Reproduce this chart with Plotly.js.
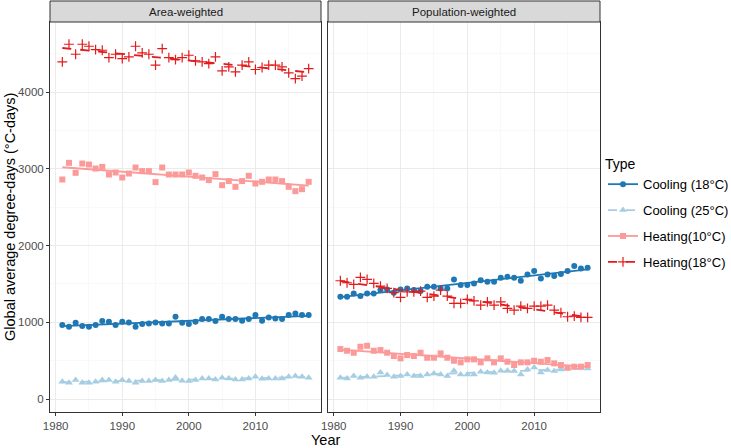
<!DOCTYPE html>
<html>
<head>
<meta charset="utf-8">
<script src="https://cdn.plot.ly/plotly-3.0.1.min.js"></script>
<style>html,body{margin:0;padding:0;background:#fff;}#chart{width:731px;height:448px;}</style>
</head>
<body>
<div id="chart"></div>
<script>
const years = [1981,1982,1983,1984,1985,1986,1987,1988,1989,1990,1991,1992,1993,1994,1995,1996,1997,1998,1999,2000,2001,2002,2003,2004,2005,2006,2007,2008,2009,2010,2011,2012,2013,2014,2015,2016,2017,2018];
const panels = ["Area-weighted", "Population-weighted"];
const types = ["Cooling (18°C)", "Cooling (25°C)", "Heating(10°C)", "Heating(18°C)"];

// Area-weighted
const areaCool18 = [963,942,994,951,942,963,1016,1007,963,1007,998,942,977,985,998,985,985,1072,994,977,1007,1042,1042,1016,1072,1042,1042,1020,1042,1094,1020,1063,1050,1042,1094,1115,1094,1094];
const areaCool25 = [226,213,247,213,213,226,247,247,226,247,234,213,234,234,247,234,247,282,239,234,247,269,269,256,278,269,256,256,269,291,264,269,269,269,291,299,291,278];
const areaHeat10 = [2860,3077,2947,3068,3055,3003,3025,2925,2951,2886,2938,3016,2969,2969,2826,3016,2925,2925,2925,2951,2908,2886,2852,2930,2786,2839,2765,2839,2908,2808,2830,2860,2860,2839,2765,2708,2734,2830];
const areaHeat18 = [4392,4622,4492,4622,4596,4553,4544,4449,4492,4436,4457,4596,4509,4492,4349,4566,4449,4423,4449,4479,4405,4392,4371,4457,4275,4327,4262,4349,4392,4293,4319,4349,4349,4327,4249,4175,4206,4305];

// Population-weighted
const popCool18 = [1332,1332,1376,1341,1376,1376,1419,1428,1385,1428,1441,1419,1406,1463,1463,1441,1441,1558,1484,1484,1506,1549,1528,1528,1580,1593,1580,1541,1623,1667,1571,1623,1602,1628,1667,1732,1701,1710];
const popCool25 = [278,269,299,278,291,291,347,313,291,299,321,299,299,321,334,321,299,369,321,321,321,356,347,343,369,369,365,321,386,412,347,378,365,386,399,412,412,399];
const popHeat10 = [651,629,603,681,694,629,638,603,560,530,573,560,603,538,538,595,538,499,478,517,517,478,530,478,530,486,443,478,478,499,486,508,465,443,408,421,421,443];
const popHeat18 = [1541,1515,1493,1584,1558,1506,1471,1441,1385,1324,1397,1397,1406,1324,1341,1419,1341,1246,1246,1298,1280,1224,1267,1224,1267,1181,1159,1211,1181,1211,1211,1224,1159,1124,1072,1081,1063,1063];

const yTicks = [0,1000,2000,3000,4000];
const xTicks = [1980,1990,2000,2010];

const colors = ["#1f78b4", "#a6cee3", "#fb9a99", "#e31a1c"];
const dashes = ["solid", "dash", "solid", "dash"];
const markers = [
  {symbol: "circle", size: 6},
  {symbol: "triangle-up", size: 7},
  {symbol: "square", size: 6},
  {symbol: "cross-thin", size: 7}
];

function fit(x, y) {
  const n = x.length;
  let mx = 0, my = 0;
  for (let i = 0; i < n; i++) { mx += x[i]; my += y[i]; }
  mx /= n; my /= n;
  let sxy = 0, sxx = 0;
  for (let i = 0; i < n; i++) { sxy += (x[i]-mx)*(y[i]-my); sxx += (x[i]-mx)*(x[i]-mx); }
  const b = sxy / sxx, a = my - b*mx;
  const x0 = x[0], x1 = x[n-1];
  return {x: [x0, x1], y: [a + b*x0, a + b*x1]};
}

const seriesByPanel = [
  [areaCool18, areaCool25, areaHeat10, areaHeat18],
  [popCool18, popCool25, popHeat10, popHeat18]
];

function markerFor(k) {
  const m = {symbol: markers[k].symbol, size: markers[k].size, color: colors[k]};
  if (markers[k].symbol === "cross-thin") m.line = {color: colors[k], width: 1.2};
  return m;
}

const traces = [];
seriesByPanel.forEach((set, p) => {
  const xa = p === 0 ? "x" : "x2";
  const ya = p === 0 ? "y" : "y2";
  set.forEach((vals, k) => {
    const f = fit(years, vals);
    traces.push({
      type: "scatter", mode: "lines", x: f.x, y: f.y, xaxis: xa, yaxis: ya,
      line: {color: colors[k], width: 1.8, dash: dashes[k]},
      showlegend: false, hoverinfo: "skip"
    });
    traces.push({
      type: "scatter", mode: "markers", x: years, y: vals, xaxis: xa, yaxis: ya,
      marker: markerFor(k), showlegend: false, name: types[k]
    });
  });
});

// legend entries
types.forEach((t, k) => {
  traces.push({
    type: "scatter", mode: "lines+markers", x: [null], y: [null],
    name: t, legendgroup: "g" + k, showlegend: true,
    line: {color: colors[k], width: 1.8, dash: dashes[k]}, marker: markerFor(k)
  });
});

const gridMajor = "#ebebeb";
const gridMinor = "#f5f5f5";
const frame = "#333333";

function xaxisDef(domain, anchor) {
  return {
    domain: domain, anchor: anchor, range: [1979.15, 2019.85],
    tickvals: xTicks, ticktext: xTicks.map(String),
    ticks: "outside", ticklen: 3, tickcolor: frame, tickwidth: 1,
    tickfont: {family: "Liberation Sans, Arial, sans-serif", size: 11.5, color: "#4d4d4d"},
    showgrid: true, gridcolor: gridMajor, gridwidth: 1,
    minor: {dtick: 5, tick0: 1975, showgrid: true, gridcolor: gridMinor, gridwidth: 0.6, ticks: ""},
    showline: true, linecolor: frame, linewidth: 1, mirror: true, zeroline: false
  };
}
function yaxisDef(anchor, labels) {
  return {
    domain: [0, 1], anchor: anchor, range: [-169, 4912],
    tickvals: yTicks, ticktext: yTicks.map(String), showticklabels: labels,
    ticks: labels ? "outside" : "", ticklen: 3, tickcolor: frame, tickwidth: 1,
    tickfont: {family: "Liberation Sans, Arial, sans-serif", size: 11.5, color: "#4d4d4d"},
    showgrid: true, gridcolor: gridMajor, gridwidth: 1,
    minor: {dtick: 1000, tick0: 500, showgrid: true, gridcolor: gridMinor, gridwidth: 0.6, ticks: ""},
    showline: true, linecolor: frame, linewidth: 1, mirror: true, zeroline: false
  };
}

const pw = 550, ph = 390;
const d1 = [0, (321-50)/pw];
const d2 = [(328-50)/pw, 1];
const stripH = 21/ph;

const layout = {
  width: 731, height: 448,
  margin: {l: 50, r: 131, t: 22, b: 36, autoexpand: false},
  paper_bgcolor: "#ffffff", plot_bgcolor: "#ffffff",
  font: {family: "Liberation Sans, Arial, sans-serif", color: "#000"},
  xaxis: xaxisDef(d1, "y"),
  yaxis: yaxisDef("x", true),
  xaxis2: xaxisDef(d2, "y2"),
  yaxis2: yaxisDef("x2", false),
  showlegend: true,
  legend: {
    x: (603-50)/pw, y: (412-151)/ph, xanchor: "left", yanchor: "top",
    title: {text: "Type", font: {size: 14, color: "#000"}},
    font: {size: 13, color: "#000"},
    tracegroupgap: 6, itemwidth: 30, bgcolor: "rgba(0,0,0,0)"
  },
  shapes: [
    {type: "rect", xref: "paper", yref: "paper", x0: d1[0], x1: d1[1], y0: 1, y1: 1+stripH,
     fillcolor: "#d9d9d9", line: {color: frame, width: 1}},
    {type: "rect", xref: "paper", yref: "paper", x0: d2[0], x1: d2[1], y0: 1, y1: 1+stripH,
     fillcolor: "#d9d9d9", line: {color: frame, width: 1}}
  ],
  annotations: [
    {xref: "paper", yref: "paper", x: (d1[0]+d1[1])/2, y: 1+stripH/2, text: panels[0], showarrow: false,
     font: {size: 11.5, color: "#1a1a1a"}, xanchor: "center", yanchor: "middle"},
    {xref: "paper", yref: "paper", x: (d2[0]+d2[1])/2, y: 1+stripH/2, text: panels[1], showarrow: false,
     font: {size: 11.5, color: "#1a1a1a"}, xanchor: "center", yanchor: "middle"},
    {xref: "paper", yref: "paper", x: 0.5, y: -(440-412)/ph, text: "Year", showarrow: false,
     font: {size: 14.5, color: "#000"}, xanchor: "center", yanchor: "middle"},
    {xref: "paper", yref: "paper", x: -(50-10)/pw, y: 0.5, text: "Global average degree-days (°C-days)",
     textangle: -90, showarrow: false, font: {size: 14.5, color: "#000"}, xanchor: "center", yanchor: "middle"}
  ]
};

Plotly.newPlot("chart", traces, layout, {displayModeBar: false, staticPlot: true});
</script>
</body>
</html>
